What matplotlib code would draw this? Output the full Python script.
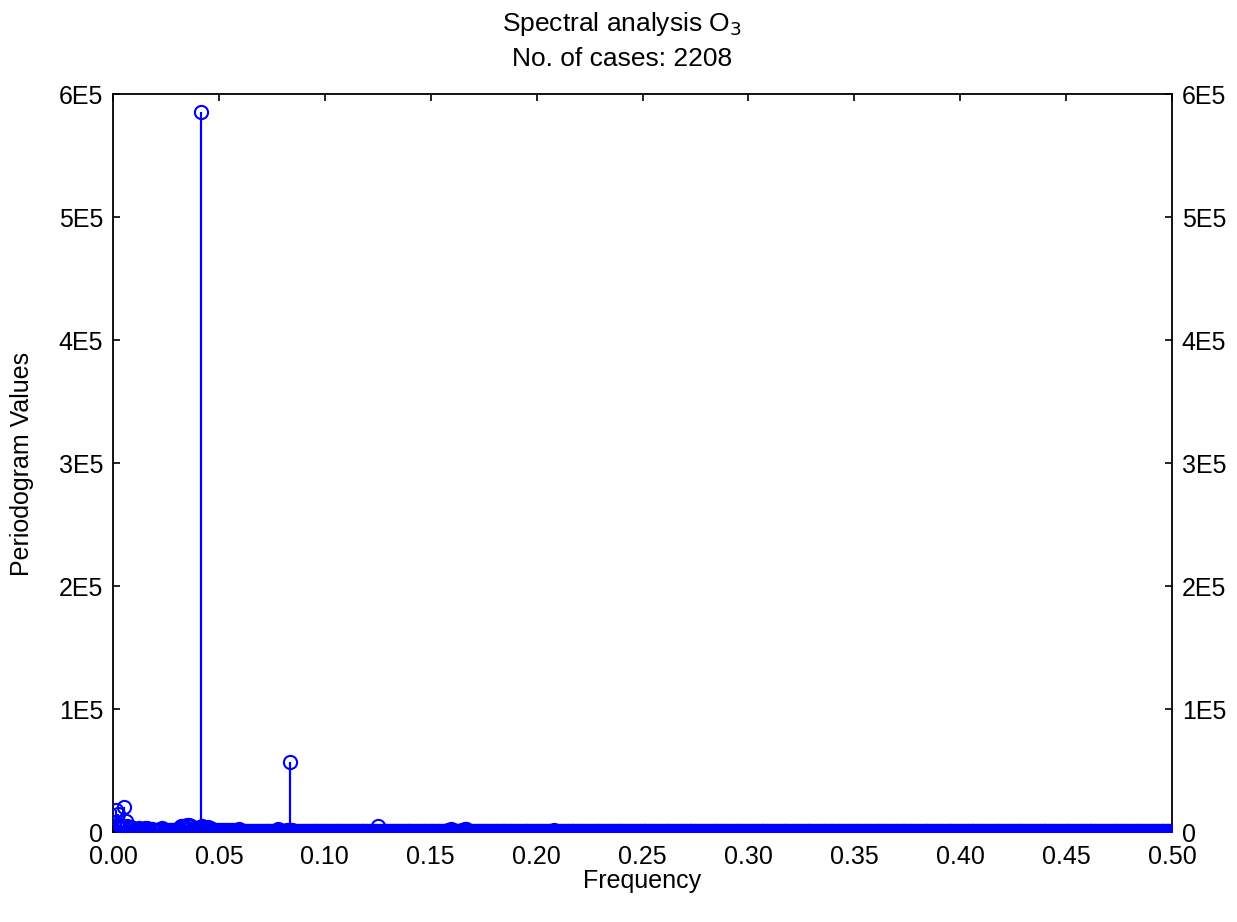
import numpy as np
import matplotlib
matplotlib.use("Agg")
import matplotlib.pyplot as plt
from matplotlib.ticker import FuncFormatter

N_CASES = 2208

# main peaks (frequency, periodogram value)
peak_freq = [1 / 24, 1 / 12, 1 / 8, 1 / 6]
peak_vals = [585500, 57000, 4500, 2500]

# low frequency part, every 2nd Fourier bin k=1,3,...,131 (values in thousands)
low_k = np.arange(1, 133, 2)
low_vals = [8, 18, 15, 6, 4, 20, 9, 5, 3.5, 4, 3, 2.5, 2, 3, 2.5, 2, 3, 3.5, 2.5, 2,
            2.5, 2, 1.5, 2, 2.5, 3, 2, 1.5, 1.5, 2, 1.5, 2, 1.5, 2, 3, 4.5, 5, 4,
            5.5, 6, 4.5, 3.5, 3, 2.5, 3, 4, 4.5, 3.5, 3, 4, 3, 2.5, 2, 1.5, 1.5, 2,
            1.5, 2, 1.5, 1.5, 1.5, 2, 2, 1.5, 2, 2.5]

# rest of the spectrum, bins k=133,136,...,1102 (values in hundreds)
tail_k = np.arange(133, 1104, 3)
tail_vals = [
    8, 6, 9, 7, 5, 8, 10, 6, 7, 9, 12, 8, 10, 25, 9, 7, 18, 9,
    14, 8, 7, 9, 6, 8, 7, 10, 6, 5, 8, 7, 9, 6, 7, 5, 8, 6,
    7, 9, 6, 5, 8, 7, 6, 9, 7, 8, 6, 12, 10, 7, 6, 8, 5, 7,
    6, 5, 7, 8, 6, 5, 9, 7, 6, 8, 5, 7, 6, 9, 7, 5, 8, 11,
    13, 22, 9, 7, 8, 18, 25, 10, 7, 6, 8, 5, 7, 6, 9, 5, 6, 8,
    5, 7, 6, 8, 5, 6, 7, 9, 6, 5, 8, 6, 7, 5, 6, 8, 7, 9,
    12, 15, 8, 6, 7, 5, 6, 8, 5, 7, 6, 5, 8, 6, 7, 5, 9, 6,
    5, 7, 6, 8, 5, 6, 10, 12, 7, 5, 6, 8, 5, 7, 6, 5, 8, 6,
    7, 5, 6, 8, 6, 5, 7, 6, 9, 5, 6, 7, 5, 8, 6, 5, 7, 6,
    5, 8, 6, 7, 5, 6, 9, 7, 5, 6, 8, 5, 7, 6, 5, 6, 8, 7,
    6, 5, 7, 9, 6, 5, 8, 6, 7, 5, 6, 7, 5, 8, 6, 7, 5, 6,
    8, 6, 5, 7, 6, 5, 8, 7, 6, 5, 9, 6, 7, 5, 6, 8, 5, 7,
    6, 5, 7, 8, 6, 5, 7, 6, 5, 8, 6, 7, 5, 6, 7, 9, 6, 5,
    7, 6, 5, 8, 6, 7, 5, 6, 8, 5, 7, 6, 5, 7, 6, 8, 5, 6,
    5, 7, 6, 5, 8, 6, 7, 5, 6, 7, 5, 8, 6, 5, 7, 6, 5, 8,
    6, 5, 7, 6, 8, 5, 6, 7, 5, 6, 8, 6, 5, 7, 6, 5, 7, 6,
    7, 6, 5, 8, 6, 7, 5, 6, 7, 5, 8, 6, 5, 6, 7, 5, 6, 8,
    5, 6, 7, 5, 6, 8, 6, 5, 7, 6, 5, 7, 6, 8, 5, 6, 7, 5,
]

# interleaved bins k=135,138,...,1104 (values in hundreds)
tail2_k = np.arange(135, 1105, 3)
tail2_vals = [
    7, 9, 6, 8, 7, 6, 9, 8, 6, 10, 9, 7, 14, 16, 8, 9, 12, 15,
    10, 7, 8, 6, 9, 7, 8, 6, 7, 9, 6, 8, 5, 7, 9, 6, 7, 8,
    6, 8, 7, 9, 6, 8, 5, 7, 8, 6, 9, 10, 8, 6, 7, 5, 8, 6,
    7, 6, 8, 5, 7, 9, 6, 8, 7, 5, 6, 8, 7, 6, 8, 9, 7, 12,
    16, 14, 8, 6, 9, 20, 15, 8, 6, 7, 5, 8, 6, 7, 5, 8, 7, 6,
    8, 6, 7, 5, 8, 7, 6, 5, 8, 7, 6, 9, 5, 7, 8, 6, 5, 7,
    10, 9, 7, 8, 5, 7, 6, 5, 8, 6, 7, 8, 5, 6, 7, 8, 6, 7,
    6, 8, 5, 7, 6, 8, 9, 8, 6, 7, 5, 6, 8, 6, 7, 8, 5, 7,
    5, 7, 8, 6, 5, 7, 6, 8, 6, 7, 5, 6, 8, 6, 7, 5, 6, 8,
    7, 6, 5, 8, 6, 7, 5, 6, 8, 7, 5, 6, 7, 8, 6, 5, 7, 6,
    5, 7, 6, 5, 8, 6, 7, 5, 6, 8, 7, 5, 6, 7, 5, 6, 8, 5,
    6, 7, 8, 5, 7, 6, 5, 6, 8, 7, 5, 8, 6, 7, 5, 6, 7, 6,
    8, 6, 5, 7, 8, 6, 5, 7, 6, 5, 8, 6, 7, 5, 6, 8, 7, 6,
    5, 8, 6, 7, 5, 6, 7, 8, 6, 5, 7, 8, 6, 5, 8, 6, 7, 5,
    7, 6, 5, 7, 6, 8, 5, 6, 7, 8, 6, 5, 7, 6, 8, 5, 6, 7,
    5, 7, 6, 8, 5, 6, 7, 5, 8, 6, 7, 5, 6, 8, 5, 7, 6, 5,
    6, 8, 7, 5, 6, 8, 7, 5, 6, 8, 5, 7, 6, 7, 5, 8, 7, 6,
    7, 5, 6, 8, 7, 5, 6, 7, 8, 5, 7, 6, 5, 7, 6, 5, 8, 6,
]

freq = np.concatenate([low_k / N_CASES, tail_k / N_CASES, tail2_k / N_CASES, peak_freq])
vals = np.concatenate([np.array(low_vals) * 1000, np.array(tail_vals) * 100,
                       np.array(tail2_vals) * 100, peak_vals])

plt.rcParams['font.family'] = ['Liberation Sans', 'DejaVu Sans']
fig = plt.figure(figsize=(12.37, 9.22), dpi=100)
ax = fig.add_axes([0.0914, 0.0976, 0.8561, 0.8000])

blue = '#0000ff'
ax.vlines(freq, 0, vals, color=blue, lw=1.6, zorder=2)
ax.plot(freq, vals, 'o', ms=9.5, mfc='none', mec=blue, mew=1.5, zorder=3)

ax.set_xlim(0, 0.5)
ax.set_ylim(0, 6e5)
ax.set_xticks(np.arange(0, 0.501, 0.05))
ax.set_yticks(np.arange(0, 6.01e5, 1e5))
ax.xaxis.set_major_formatter(FuncFormatter(lambda v, p: f"{v:.2f}"))
ax.yaxis.set_major_formatter(FuncFormatter(lambda v, p: "0" if v == 0 else f"{int(round(v / 1e5))}E5"))
ax.tick_params(direction='in', length=5, width=1.2, top=True, right=True,
               labelright=True, labelsize=18)
ax.tick_params(axis='x', pad=9)
ax.tick_params(axis='y', pad=7)
for s in ax.spines.values():
    s.set_linewidth(1.3)

fig.text(0.503, 0.9664, "Spectral analysis O$_3$", ha='center', va='baseline', fontsize=19)
fig.text(0.503, 0.9284, "No. of cases: 2208", ha='center', va='baseline', fontsize=19)
fig.text(0.519, 0.045, "Frequency", ha='center', va='center', fontsize=18)
fig.text(0.018, 0.497, "Periodogram Values", ha='center', va='center', rotation=90, fontsize=18)

fig.savefig("out.png", dpi=100)
